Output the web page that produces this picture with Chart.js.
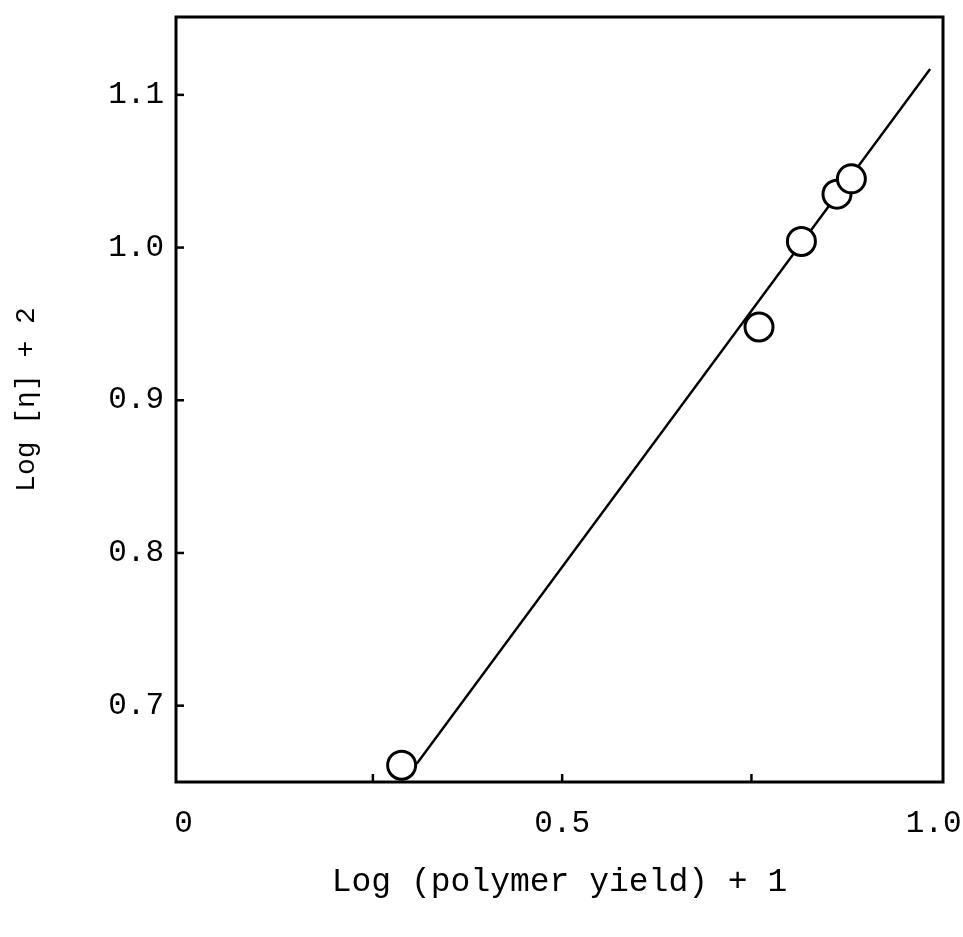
<!DOCTYPE html>
<html>
<head>
<meta charset="utf-8">
<script src="https://cdn.jsdelivr.net/npm/chart.js@4/dist/chart.umd.min.js"></script>
<style>
  html, body { margin: 0; padding: 0; background: #ffffff; }
  #wrap { width: 963px; height: 937px; }
</style>
</head>
<body>
<div id="wrap"><canvas id="c" width="963" height="937"></canvas></div>
<script>
// Data
const yieldLog = [0.288, 0.760, 0.816, 0.863, 0.882];   // Log (polymer yield) + 1
const etaLog   = [0.661, 0.948, 1.004, 1.035, 1.045];   // Log [eta] + 2
const fitX = [0.308, 0.986];
const fitY = [0.662, 1.117];
const xTickValues = [0, 0.25, 0.5, 0.75, 1.0];
const xTickLabels = ["0", "", "0.5", "", "1.0"];
const yTickValues = [0.7, 0.8, 0.9, 1.0, 1.1];
const yTickLabels = ["0.7", "0.8", "0.9", "1.0", "1.1"];
const xTitle = "Log (polymer yield) + 1";
const yTitle = "Log [η] + 2";

const FONT = "'Liberation Mono', 'Courier New', monospace";

const framePlugin = {
  id: 'frame',
  beforeDraw(chart) {
    // keep the last x label inside the canvas edge
    const items = chart.scales.x.getLabelItems(chart.chartArea);
    items.forEach(it => {
      if (it.label === '1.0' && it.options && it.options.translation && !it._nudged) {
        it.options.translation[0] -= 7;
        it._nudged = true;
      }
    });
  },
  afterDatasetsDraw(chart) {
    const {ctx, chartArea: a, scales: {x, y}} = chart;
    ctx.save();
    ctx.strokeStyle = '#000';
    ctx.lineWidth = 3;
    ctx.strokeRect(a.left, a.top, a.right - a.left, a.bottom - a.top);
    ctx.lineWidth = 2.5;
    yTickValues.forEach(v => {
      const py = y.getPixelForValue(v);
      ctx.beginPath(); ctx.moveTo(a.left, py); ctx.lineTo(a.left + 8, py); ctx.stroke();
    });
    xTickValues.forEach(v => {
      if (v <= 0 || v >= 1) return;
      const px = x.getPixelForValue(v);
      ctx.beginPath(); ctx.moveTo(px, a.bottom); ctx.lineTo(px, a.bottom - 8); ctx.stroke();
    });
    ctx.restore();
  }
};

new Chart(document.getElementById('c'), {
  type: 'scatter',
  data: {
    datasets: [
      {
        label: 'data',
        data: yieldLog.map((v, i) => ({x: v, y: etaLog[i]})),
        pointRadius: 14,
        pointBorderWidth: 3,
        pointBorderColor: '#000',
        pointBackgroundColor: '#fff',
        showLine: false,
        order: 0
      },
      {
        label: 'fit',
        data: fitX.map((v, i) => ({x: v, y: fitY[i]})),
        showLine: true,
        borderColor: '#000',
        borderWidth: 2.4,
        pointRadius: 0,
        fill: false,
        order: 1
      }
    ]
  },
  options: {
    responsive: false,
    animation: false,
    devicePixelRatio: 1,
    layout: { padding: { top: 15, right: 20, left: 0, bottom: 0 } },
    plugins: { legend: { display: false }, tooltip: { enabled: false } },
    scales: {
      x: {
        type: 'linear',
        min: -0.01,
        max: 1.003,
        grid: { display: false, drawTicks: false },
        border: { display: false },
        afterBuildTicks: s => { s.ticks = xTickValues.map(v => ({value: v})); },
        afterFit: s => { s.height = 155; s.paddingLeft = 0; s.paddingRight = 0; },
        ticks: {
          autoSkip: false, maxRotation: 0, minRotation: 0, padding: 23,
          color: '#000', font: { family: FONT, size: 31 },
          callback: (v) => { const i = xTickValues.indexOf(v); return i >= 0 ? xTickLabels[i] : ''; }
        },
        title: {
          display: true, text: xTitle, color: '#000',
          font: { family: FONT, size: 33, lineHeight: 1 },
          padding: { top: 0, bottom: 38 }
        }
      },
      y: {
        type: 'linear',
        min: 0.65,
        max: 1.151,
        grid: { display: false, drawTicks: false },
        border: { display: false },
        afterBuildTicks: s => { s.ticks = yTickValues.map(v => ({value: v})); },
        afterFit: s => { s.width = 176; s.paddingTop = 0; s.paddingBottom = 0; },
        ticks: {
          autoSkip: false, padding: 12,
          color: '#000', font: { family: FONT, size: 31 },
          callback: (v) => { const i = yTickValues.findIndex(t => Math.abs(t - v) < 1e-9); return i >= 0 ? yTickLabels[i] : ''; }
        },
        title: {
          display: true, text: yTitle, color: '#000',
          font: { family: FONT, size: 28, lineHeight: 1 },
          padding: { top: 13, bottom: 0 }
        }
      }
    }
  },
  plugins: [framePlugin]
});
</script>
</body>
</html>
